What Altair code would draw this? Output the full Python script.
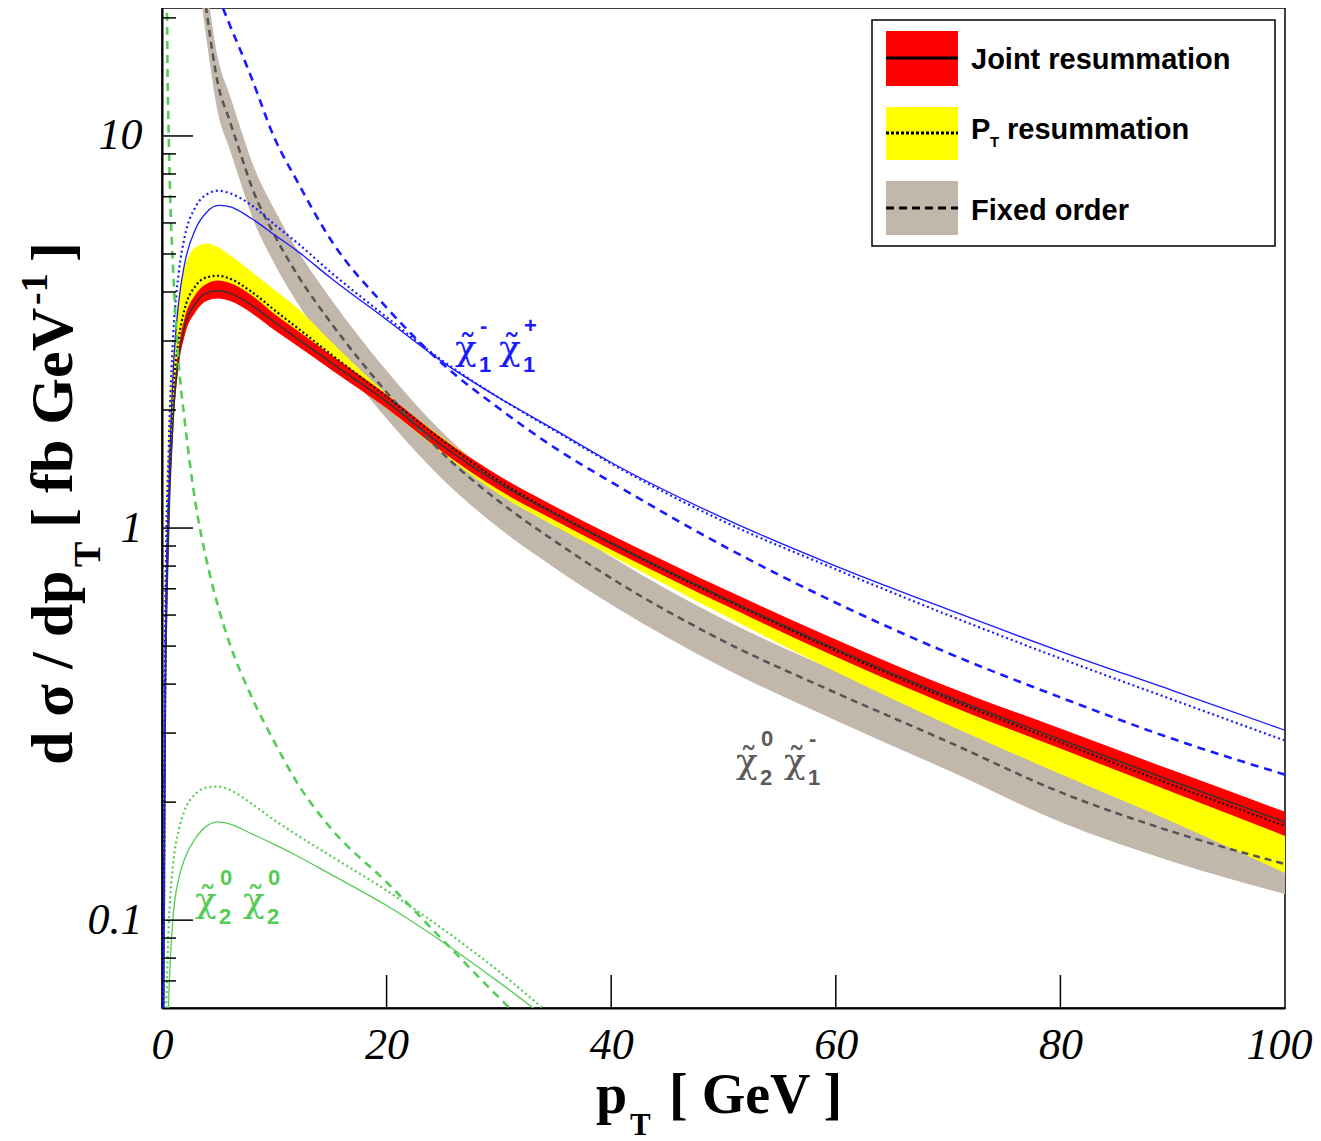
import altair as alt
import pandas as pd

# ---------------- data ----------------
pt_res = [0.1, 0.3, 0.6, 1.0, 1.5, 2, 3, 4, 5, 6, 8, 10, 12, 15, 20, 25, 30, 35, 40, 50, 60, 70, 80, 90, 100]

joint_c = [0.03, 0.35, 1.0, 1.9, 2.75, 3.25, 3.75, 3.98, 4.03, 3.98, 3.7, 3.35, 3.05, 2.65, 2.1, 1.62, 1.3, 1.085, 0.916, 0.664, 0.492, 0.372, 0.289, 0.226, 0.178]
joint_lo = [0.025, 0.3, 0.92, 1.78, 2.6, 3.08, 3.56, 3.8, 3.85, 3.8, 3.53, 3.2, 2.92, 2.54, 2.02, 1.56, 1.25, 1.045, 0.88, 0.638, 0.47, 0.354, 0.274, 0.212, 0.164]
joint_hi = [0.035, 0.4, 1.08, 2.02, 2.9, 3.42, 3.95, 4.2, 4.28, 4.22, 3.92, 3.52, 3.2, 2.77, 2.19, 1.69, 1.36, 1.135, 0.96, 0.7, 0.52, 0.394, 0.308, 0.241, 0.189]

ptres_c = [0.035, 0.42, 1.2, 2.2, 3.05, 3.6, 4.15, 4.36, 4.40, 4.33, 4.0, 3.6, 3.25, 2.78, 2.16, 1.67, 1.32, 1.09, 0.915, 0.66, 0.487, 0.367, 0.284, 0.221, 0.174]
ptres_lo = [0.03, 0.36, 1.05, 1.95, 2.75, 3.2, 3.65, 3.85, 3.9, 3.85, 3.55, 3.22, 2.93, 2.55, 2.02, 1.55, 1.22, 1.01, 0.85, 0.6, 0.43, 0.315, 0.236, 0.178, 0.132]
ptres_hi = [0.05, 0.7, 1.8, 2.8, 3.9, 4.6, 5.2, 5.32, 5.2, 4.98, 4.5, 4.05, 3.65, 3.0, 2.2, 1.7, 1.35, 1.11, 0.935, 0.675, 0.496, 0.373, 0.289, 0.225, 0.177]

blue_joint = [0.05, 0.5, 1.2, 2.5, 3.8, 4.7, 5.8, 6.4, 6.65, 6.6, 6.15, 5.6, 5.1, 4.35, 3.4, 2.65, 2.15, 1.78, 1.47, 1.06, 0.8, 0.62, 0.485, 0.385, 0.305]
blue_ptres = [0.06, 0.65, 1.6, 3.1, 4.5, 5.5, 6.6, 7.1, 7.25, 7.15, 6.65, 5.95, 5.35, 4.5, 3.45, 2.67, 2.15, 1.77, 1.46, 1.04, 0.785, 0.6, 0.465, 0.365, 0.287]

pt_fo = [3, 4, 5, 6, 7, 8, 10, 12, 15, 20, 25, 30, 35, 40, 50, 60, 70, 80, 90, 100]
fixed_c = [35, 20.5, 13.5, 11, 9.0, 7.4, 5.6, 4.45, 3.35, 2.22, 1.55, 1.17, 0.925, 0.745, 0.515, 0.38, 0.285, 0.212, 0.168, 0.139]
fixed_lo = [29.5, 17.3, 11.4, 9.3, 7.6, 6.25, 4.73, 3.77, 2.86, 1.9, 1.33, 1.0, 0.79, 0.638, 0.44, 0.323, 0.241, 0.178, 0.141, 0.1165]
fixed_hi = [41, 23.8, 15.7, 12.8, 10.45, 8.6, 6.5, 5.15, 3.85, 2.52, 1.75, 1.32, 1.04, 0.845, 0.585, 0.432, 0.325, 0.243, 0.193, 0.16]
blue_fixed = [40, 30, 23, 19.3, 16.5, 14, 9.9, 7.7, 5.45, 3.65, 2.62, 2.02, 1.6, 1.31, 0.9, 0.645, 0.48, 0.37, 0.29, 0.235]

pt_green = [0.2, 0.3, 0.5, 0.7, 1, 1.5, 2, 3, 4, 5, 6, 8, 10, 12, 15, 20, 25, 30, 35, 40]
green_joint = [0.01, 0.025, 0.05, 0.075, 0.103, 0.128, 0.143, 0.162, 0.174, 0.178, 0.176, 0.166, 0.156, 0.146, 0.131, 0.109, 0.088, 0.0695, 0.054, 0.041]
green_ptres = [0.015, 0.04, 0.08, 0.11, 0.14, 0.17, 0.19, 0.21, 0.218, 0.219, 0.215, 0.198, 0.18, 0.165, 0.146, 0.119, 0.095, 0.074, 0.056, 0.042]
pt_green_fo = [0.3, 0.4, 0.5, 0.6, 0.7, 1, 1.5, 2, 3, 4, 5, 6, 8, 10, 12, 15, 20, 25, 30, 35]
green_fixed = [60, 30, 14, 10, 7.5, 4.5, 2.6, 1.9, 1.15, 0.82, 0.63, 0.51, 0.37, 0.285, 0.225, 0.172, 0.125, 0.089, 0.0635, 0.046]

x_ticks = [0, 20, 40, 60, 80, 100]
y_major = [0.1, 1, 10]
y_minor = [0.07, 0.08, 0.09, 0.2, 0.3, 0.4, 0.5, 0.6, 0.7, 0.8, 0.9,
           2, 3, 4, 5, 6, 7, 8, 9, 20]

legend_labels = ["Joint resummation", "P", "resummation", "Fixed order"]

# ---------------- layout ----------------
W, H = 1123, 1000
PX0, PY0 = 162, 8   # page position of plot origin

xs = alt.Scale(domain=[0, 100], nice=False, zero=False)
ys = alt.Scale(type="log", domain=[0.0597, 21.2], nice=False)

RED, YELLOW, GREY = "#ff0000", "#ffff00", "#c2b7ab"
BLUE, GREEN = "#1a1aff", "#55cc55"
DOT, DASH = [2, 3], [8, 6]

ax_x = alt.Axis(values=x_ticks, ticks=False, grid=False, labelPadding=15, labelFlush=False,
                labelOffset={"condition": {"test": "datum.value >= 100", "value": -6}, "value": 0},
                labelFont="Liberation Serif", labelFontStyle="italic", labelFontSize=44,
                labelColor="black", domainColor="black", domainWidth=2, title=None)
ax_y = alt.Axis(values=y_major, ticks=False, grid=False, labelPadding=20, labelFlush=False,
                labelFont="Liberation Serif", labelFontStyle="italic", labelFontSize=44,
                labelColor="black", domainColor="black", domainWidth=2, title=None,
                labelExpr="datum.value < 0.5 ? '0.1' : (datum.value < 5 ? '1' : '10')")

one = pd.DataFrame({"a": [0]})


def X(f):
    return alt.X(f, scale=xs, axis=ax_x, title=None)


def Y(f):
    return alt.Y(f, scale=ys, axis=ax_y, title=None)


def band(pts, lo, hi, color):
    df = pd.DataFrame({"pT": pts, "lo": lo, "hi": hi})
    return alt.Chart(df).mark_area(color=color, clip=True, interpolate="monotone", opacity=1).encode(
        x=X("pT:Q"), y=Y("lo:Q"), y2="hi:Q")


def line(pts, vals, color, width, dash=None):
    df = pd.DataFrame({"pT": pts, "v": vals})
    kw = dict(color=color, strokeWidth=width, clip=True, interpolate="monotone")
    if dash:
        kw["strokeDash"] = dash
    return alt.Chart(df).mark_line(**kw).encode(x=X("pT:Q"), y=Y("v:Q"))


def txt(s, px, py, size, font="Liberation Serif", weight="normal", style="normal",
        color="black", align="left", baseline="alphabetic", angle=0):
    return alt.Chart(one).mark_text(
        text=s, fontSize=size, font=font, fontWeight=weight, fontStyle=style,
        color=color, align=align, baseline=baseline, angle=angle,
    ).encode(x=alt.value(px - PX0), y=alt.value(py - PY0))


def rect(x1, y1, x2, y2, fill, stroke=None, sw=0):
    kw = dict(color=fill)
    if stroke:
        kw.update(stroke=stroke, strokeWidth=sw)
    return alt.Chart(one).mark_rect(**kw).encode(
        x=alt.value(x1 - PX0), x2=alt.value(x2 - PX0),
        y=alt.value(y1 - PY0), y2=alt.value(y2 - PY0))


def hrule(x1, x2, y, color="black", width=3, dash=None):
    kw = dict(color=color, strokeWidth=width)
    if dash:
        kw["strokeDash"] = dash
    return alt.Chart(one).mark_rule(**kw).encode(
        x=alt.value(x1 - PX0), x2=alt.value(x2 - PX0), y=alt.value(y - PY0))


def chi(px, py, color, sub, sup):
    """chi with tilde, subscript and superscript; px,py = left/baseline of chi"""
    return [
        txt("\u03c7\u0303", px, py, 36, font="DejaVu Serif", color=color),
        txt(sub, px + 24, py + 12, 22, font="Liberation Sans", weight="bold", color=color),
        txt(sup, px + 25, py - 27, 22, font="Liberation Sans", weight="bold", color=color),
    ]


layers = []
# bands
layers.append(band(pt_fo, fixed_lo, fixed_hi, GREY))
layers.append(band(pt_res, ptres_lo, ptres_hi, YELLOW))
layers.append(band(pt_res, joint_lo, joint_hi, RED))
# central lines chi2^0 chi1^-
layers.append(line(pt_fo, fixed_c, "#555555", 2.5, [7, 5]))
layers.append(line(pt_res, ptres_c, "#111111", 2.2, [2, 2.5]))
layers.append(line(pt_res, joint_c, "#333333", 1.5))
# chi1^- chi1^+
layers.append(line(pt_res, blue_joint, BLUE, 1.3))
layers.append(line(pt_res, blue_ptres, BLUE, 2.2, DOT))
layers.append(line(pt_fo, blue_fixed, BLUE, 2.6, DASH))
# chi2^0 chi2^0
layers.append(line(pt_green, green_joint, GREEN, 1.3))
layers.append(line(pt_green, green_ptres, GREEN, 2.2, DOT))
layers.append(line(pt_green_fo, green_fixed, GREEN, 2.6, DASH))

# inward ticks drawn as rules
layers.append(alt.Chart(pd.DataFrame({"t": x_ticks[1:-1]})).mark_rule(color="black", strokeWidth=1.5).encode(
    x=X("t:Q"), y=alt.value(H), y2=alt.value(H - 33)))
layers.append(alt.Chart(pd.DataFrame({"v": y_major})).mark_rule(color="black", strokeWidth=1.5).encode(
    y=Y("v:Q"), x=alt.value(0), x2=alt.value(31)))
layers.append(alt.Chart(pd.DataFrame({"v": y_minor})).mark_rule(color="black", strokeWidth=1.5).encode(
    y=Y("v:Q"), x=alt.value(0), x2=alt.value(14)))

# curve labels
LGREY = "#5a5a5a"
layers += chi(455, 360, BLUE, "1", "-")
layers += chi(499, 360, BLUE, "1", "+")
layers += chi(736, 773, LGREY, "2", "0")
layers += chi(784, 773, LGREY, "1", "-")
layers += chi(195, 912, GREEN, "2", "0")
layers += chi(243, 912, GREEN, "2", "0")

# legend
LF = "Liberation Sans"
layers += [
    rect(872, 20, 1275, 246, "white", "black", 1.5),
    rect(886, 31, 958, 86, RED),
    rect(886, 107, 958, 160, YELLOW),
    rect(886, 181, 958, 235, GREY),
    hrule(886, 958, 58, width=3),
    hrule(886, 958, 133, width=3, dash=[3, 2]),
    hrule(886, 958, 208, width=3, dash=[8, 5]),
    txt(legend_labels[0], 971, 69, 29, font=LF, weight="bold"),
    txt(legend_labels[1], 971, 139, 29, font=LF, weight="bold"),
    txt("T", 990, 147, 15, font=LF, weight="bold"),
    txt(legend_labels[2], 1007, 139, 29, font=LF, weight="bold"),
    txt(legend_labels[3], 971, 220, 29, font=LF, weight="bold"),
]

# axis titles
TF = "Liberation Serif"
layers += [
    txt("p", 596, 1113, 56, font=TF, weight="bold"),
    txt("T", 630, 1135, 31, font=TF, weight="bold"),
    txt("[ GeV ]", 669, 1113, 56, font=TF, weight="bold"),
    txt("d \u03c3 / dp", 72, 765, 60, font=TF, weight="bold", angle=270),
    txt("T", 100, 567, 38, font=TF, weight="bold", angle=270),
    txt("[ fb GeV", 72, 528, 60, font=TF, weight="bold", angle=270),
    txt("-1", 47, 305, 38, font=TF, weight="bold", angle=270),
    txt("]", 72, 262, 60, font=TF, weight="bold", angle=270),
]

chart = alt.layer(*layers).properties(
    width=W, height=H,
    autosize=alt.AutoSizeParams(type="none"),
    padding={"left": PX0 - 8, "top": PY0 - 8, "right": 28, "bottom": 133},
).configure_view(stroke="black", strokeWidth=1.5)

chart.save("out.html", embed_options={"renderer": "svg", "actions": False})
